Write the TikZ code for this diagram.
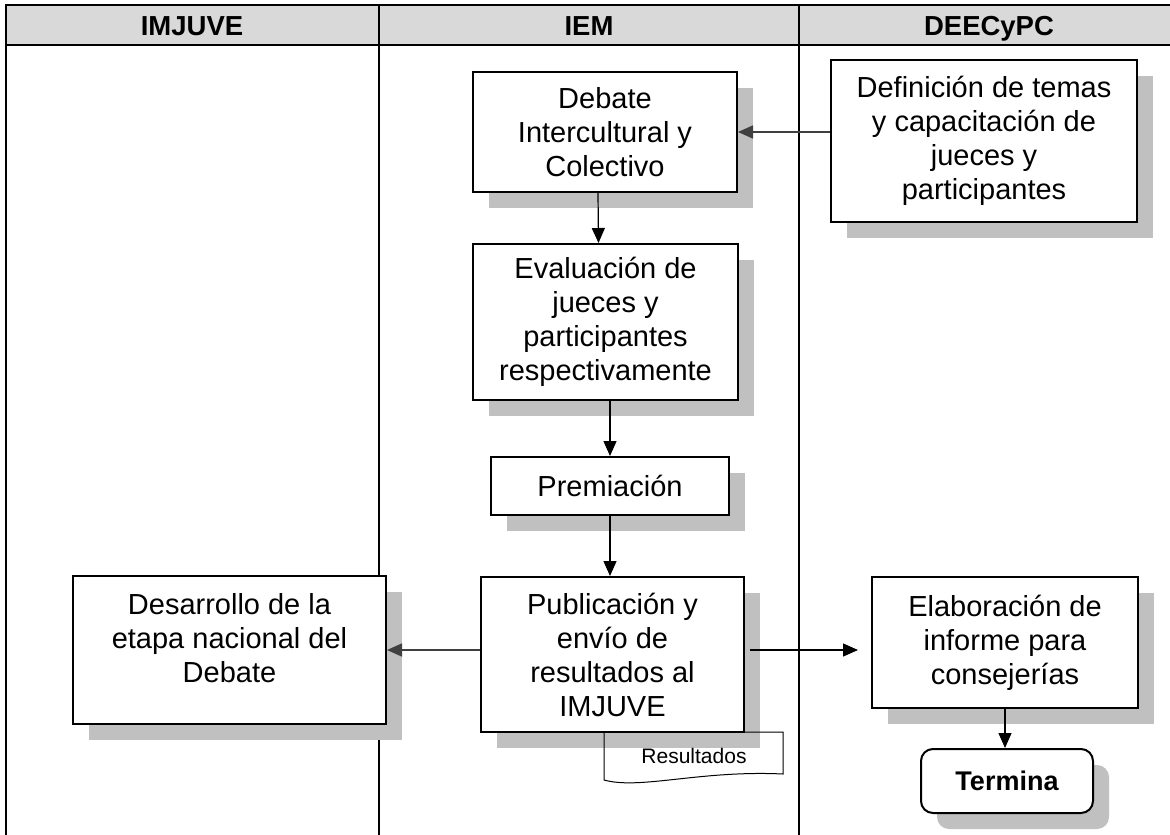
\documentclass[tikz,border=0pt]{standalone}
\usepackage{fontspec}
\setmainfont{Liberation Sans}
\usetikzlibrary{arrows.meta,shadows}
\definecolor{headgray}{RGB}{217,217,217}
\definecolor{shadowgray}{RGB}{192,192,192}
\definecolor{tipgray}{RGB}{64,64,64}
\tikzset{
  lane/.style={line width=2pt},
  box/.style={draw, line width=2pt, fill=white, inner sep=0pt, align=center,
    font=\fontsize{29}{34}\selectfont,
    drop shadow={shadow xshift=16pt, shadow yshift=-16pt, fill=shadowgray, opacity=1}},
  boxtext/.style={inner sep=0pt, align=center, font=\fontsize{29}{34}\selectfont},
  endbox/.style={box, rounded corners=12pt, font=\fontsize{27}{32}\selectfont\bfseries},
  head/.style={anchor=base, font=\fontsize{27.5}{32}\selectfont\bfseries},
  arr/.style={-{Triangle[length=15pt,width=13pt]}, line width=1.2pt},
  garr/.style={arr, draw=tipgray, line width=1.6pt}
}
\begin{document}
\begin{tikzpicture}[x=1pt,y=-1pt]
        \useasboundingbox (0,0) rectangle (1170,835);
        \fill[headgray] (6,5) rectangle (1170,45);
        \draw[lane] (6,5) -- (1170,5);
        \draw[lane] (6,45) -- (1170,45);
        \draw[lane] (6,4) -- (6,835);
        \draw[lane] (379,4) -- (379,835);
        \draw[lane] (799,4) -- (799,835);
        \node[head] (h1) at (192,35) {IMJUVE};
        \node[head] (h2) at (589,35) {IEM};
        \node[head] (h3) at (989,35) {DEECyPC};

        \node[box, minimum width=264pt, minimum height=120pt] (deb) at (605,132) {Debate\\Intercultural y\\Colectivo};
        \node[box, minimum width=306pt, minimum height=162pt] (def) at (984,141) {Definición de temas\\y capacitación de\\jueces y\\participantes};
        \node[box, minimum width=265pt, minimum height=156pt] (eva) at (605.5,322) {Evaluación de\\jueces y\\participantes\\respectivamente};
        \node[box, minimum width=238pt, minimum height=58pt] (pre) at (610,486) {Premiación};
        \node[box, minimum width=263pt, minimum height=155pt] (pub) at (612.5,654.5) {Publicación y\\envío de\\resultados al\\IMJUVE};
        \node[box, minimum width=313pt, minimum height=148pt] (des) at (229.5,650) {};
        \node[boxtext] (destext) at ([yshift=12pt]des.center) {Desarrollo de la\\etapa nacional del\\Debate};
        \node[box, minimum width=266pt, minimum height=131pt] (ela) at (1005,642.5) {Elaboración de\\informe para\\consejerías};
        \node[endbox, minimum width=172pt, minimum height=64pt] (ter) at (1007,781) {Termina};

        \draw[line width=1pt] (604,732) -- (604,780) .. controls (640,790) and (700,770) .. (783,774) -- (783,732) -- cycle;
        \node[font=\fontsize{21}{25}\selectfont] (res) at (694,756) {Resultados};

        \draw[garr] (def.west |- deb.east) -- (deb.east);
        \draw[arr] ([xshift=-7pt]deb.south) -- ([xshift=-7pt]eva.north);
        \draw[arr] (eva.south -| pre) -- (pre.north);
        \draw[arr] (pre.south) -- (pre.south |- pub.north);
        \draw[garr] (pub.west |- des.east) -- (des.east);
        \draw[arr] ([xshift=5pt,yshift=4.5pt]pub.east) -- ([xshift=-13pt,yshift=4.5pt]ela.west |- pub.east);
        \draw[arr] (ela.south) -- (ela.south |- ter.north);
\end{tikzpicture}
\end{document}
